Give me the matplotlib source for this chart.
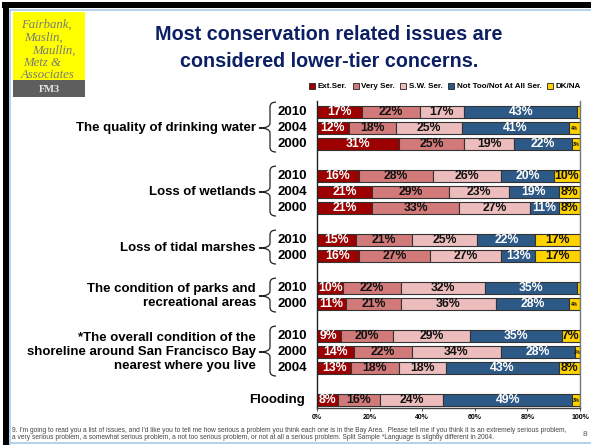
import numpy as np
import matplotlib
matplotlib.use("Agg")
import matplotlib.pyplot as plt
from matplotlib.patches import Rectangle, Patch, PathPatch
from matplotlib.path import Path
from matplotlib.lines import Line2D
import matplotlib.transforms as mtransforms

plt.rcParams['font.family'] = ['Liberation Sans', 'DejaVu Sans']

# issues and the survey years shown for each (top to bottom)
issues = ["The quality of drinking water",
          "Loss of wetlands",
          "Loss of tidal marshes",
          "The condition of parks and\nrecreational areas",
          "*The overall condition of the\nshoreline around San Francisco Bay\nnearest where you live",
          "Flooding"]
years = [["2010", "2004", "2000"],
         ["2010", "2004", "2000"],
         ["2010", "2000"],
         ["2010", "2000"],
         ["2010", "2000", "2004"],
         [""]]

# percentages, one value per bar row
ext_ser = [17, 12, 31, 16, 21, 21, 15, 16, 10, 11, 9, 14, 13, 8]
very_ser = [22, 18, 25, 28, 29, 33, 21, 27, 22, 21, 20, 22, 18, 16]
sw_ser = [17, 25, 19, 26, 23, 27, 25, 27, 32, 36, 29, 34, 18, 24]
not_too = [43, 41, 22, 20, 19, 11, 22, 13, 35, 28, 35, 28, 43, 49]
dk_na = [1, 4, 3, 10, 8, 8, 17, 17, 1, 4, 7, 2, 8, 3]

series_names = ["Ext.Ser.", "Very Ser.", "S.W. Ser.", "Not Too/Not At All Ser.", "DK/NA"]
series_colors = ["#9C0000", "#D27A7A", "#EDBDBD", "#2D5986", "#FFD200"]
label_colors = ["white", "#111111", "#111111", "white", "#111111"]
xticks = [0, 20, 40, 60, 80, 100]

W, H = 591, 445
def fx(x):
    return x / W
def fy(y):
    return 1 - y / H

fig = plt.figure(figsize=(W / 100, H / 100), dpi=100)
fig.patch.set_facecolor("white")

# slide frame
fig.add_artist(Rectangle((fx(2), fy(8)), fx(589), 6 / H, transform=fig.transFigure,
                         facecolor="black", edgecolor="none"))
fig.add_artist(Rectangle((fx(3), 0), 6 / W, fy(2), transform=fig.transFigure,
                         facecolor="black", edgecolor="none"))
for xs, ys in [([10, 591], [10, 10]), ([10, 10], [10, 445]), ([10, 591], [443, 443])]:
    fig.add_artist(Line2D([fx(v) for v in xs], [fy(v) for v in ys], transform=fig.transFigure,
                          color="#A9C9E8", lw=1.2))

# logo
fig.add_artist(Rectangle((fx(13), fy(80)), 72 / W, 68 / H, transform=fig.transFigure,
                         facecolor="#FFFF00", edgecolor="none"))
fig.add_artist(Rectangle((fx(13), fy(97)), 72 / W, 17 / H, transform=fig.transFigure,
                         facecolor="#5E5E5E", edgecolor="none"))
logo_lines = [("Fairbank,", 21, 25), ("Maslin,", 24, 38), ("Maullin,", 32, 51),
              ("Metz &", 23, 63), ("Associates", 21, 75)]
for txt, x, y in logo_lines:
    fig.text(fx(x), fy(y), txt, family="Liberation Serif", style="italic", fontsize=9.2,
             color="#7A7A7A", ha="left", va="center")
fig.text(fx(49), fy(89), "FM3", family="Liberation Serif", fontweight="bold", fontsize=7.5,
         color="#E6E6E6", ha="center", va="center")

# title
fig.text(fx(329), fy(48), "Most conservation related issues are\nconsidered lower-tier concerns.",
         ha="center", va="center", fontsize=14.2, fontweight="bold", color="#0B1F62",
         linespacing=1.55)

ax = fig.add_axes([fx(317), fy(408), (580 - 317) / W, (408 - 101) / H])

# row positions: one empty slot between issues
positions = []
group_rows = []
pos = 0
for yrs in years:
    rows = list(range(pos, pos + len(yrs)))
    positions.extend(rows)
    group_rows.append(rows)
    pos += len(yrs) + 1
positions = np.array(positions)

data = [ext_ser, very_ser, sw_ser, not_too, dk_na]
left = np.zeros(len(positions))
for vals, name, col, tcol in zip(data, series_names, series_colors, label_colors):
    vals = np.array(vals, dtype=float)
    ax.barh(positions, vals, left=left, height=0.76, color=col, edgecolor="#333333",
            linewidth=0.8, label=name)
    for p, l, v in zip(positions, left, vals):
        if v < 2:
            continue
        size = 8.8 if v >= 5 else 3.4
        ax.text(l + v / 2, p, f"{int(v)}%", ha="center", va="center", fontsize=size,
                fontweight="bold", color=tcol)
    left += vals

ax.set_xlim(0, 100)
ax.set_ylim(18.5, -0.69)
ax.set_yticks([])
ax.set_xticks(xticks)
ax.set_xticklabels([f"{t}%" for t in xticks], fontsize=5, fontweight="bold")
ax.tick_params(axis="x", length=2, width=0.6, pad=2, color="#333333")
ax.spines["top"].set_visible(False)
ax.spines["left"].set_color("#222222")
ax.spines["bottom"].set_color("#444444")
ax.spines["right"].set_color("#777777")
for s in ["left", "bottom", "right"]:
    ax.spines[s].set_linewidth(1.0)

# year labels, braces and issue labels
trans = mtransforms.blended_transform_factory(ax.transAxes, ax.transData)
aw = 580 - 317
def ax_x(px):
    return (px - 317) / aw

for issue, yrs, rows in zip(issues, years, group_rows):
    mid = (rows[0] + rows[-1]) / 2
    if len(rows) == 1:
        ax.text(ax_x(305), mid, issue, transform=trans, ha="right", va="center",
                fontsize=9.5, fontweight="bold")
        continue
    for yr, r in zip(yrs, rows):
        ax.text(ax_x(277), r, yr, transform=trans, ha="left", va="center",
                fontsize=9.5, fontweight="bold")
    top, bot = rows[0] - 0.62, rows[-1] + 0.5
    xe, xs, xt = ax_x(276), ax_x(270), ax_x(259)
    r = 0.3
    verts = [(xe, top), (xs, top), (xs, top + r), (xs, mid - r), (xs, mid), (xt, mid),
             (xs, mid), (xs, mid + r), (xs, bot - r), (xs, bot), (xe, bot)]
    codes = [Path.MOVETO, Path.CURVE3, Path.CURVE3, Path.LINETO, Path.CURVE3, Path.CURVE3,
             Path.CURVE3, Path.CURVE3, Path.LINETO, Path.CURVE3, Path.CURVE3]
    ax.add_patch(PathPatch(Path(verts, codes), transform=trans, fill=False,
                           edgecolor="#222222", lw=0.9, clip_on=False))
    ax.text(ax_x(256), mid, issue, transform=trans, ha="right", va="center",
            fontsize=9.5, fontweight="bold", multialignment="right", linespacing=1.25)

handles = [Patch(facecolor=c, edgecolor="#222222", linewidth=0.6) for c in series_colors]
fig.legend(handles, series_names, loc="center", bbox_to_anchor=(fx(445), fy(86.5)),
           ncol=5, frameon=False, prop={"weight": "bold", "size": 5.8},
           handlelength=0.75, handleheight=0.75, handletextpad=0.3, columnspacing=0.7,
           borderpad=0)

# footnote
fig.text(fx(12), fy(430), "9. I'm going to read you a list of issues, and I'd like you to tell me how serious "
         "a problem you think each one is in the Bay Area.  Please tell me if you think it is an "
         "extremely serious problem,", fontsize=4.8, color="#444444", ha="left", va="center")
fig.text(fx(12), fy(437.5), "a very serious problem, a somewhat serious problem, a not too serious problem, "
         "or not at all a serious problem. Split Sample *Language is slightly different in 2004.",
         fontsize=4.8, color="#444444", ha="left", va="center")
fig.text(fx(587), fy(435), "8", fontsize=6, color="#555555", ha="right", va="center")

fig.savefig("out.png", dpi=100)
